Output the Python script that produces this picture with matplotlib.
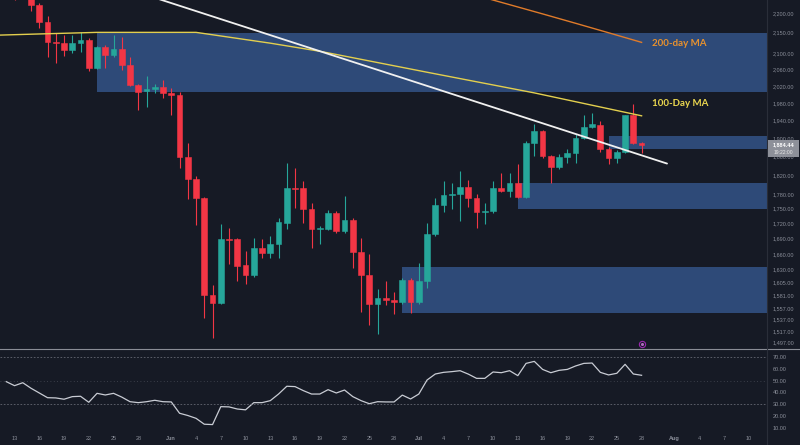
import numpy as np
import pandas as pd
import matplotlib
matplotlib.use('Agg')
import matplotlib.pyplot as plt
import matplotlib.dates as mdates
from matplotlib.lines import Line2D
from matplotlib.patches import Rectangle

# Daily candles, 12 May - 28 Jul
dates = pd.date_range('2023-05-12', '2023-07-28', freq='D')

opens = [2330, 2290, 2250, 2245, 2221, 2177, 2127, 2124, 2107, 2125, 2132, 2063, 2114, 2095, 2109, 2070, 2022, 2008, 2013, 2018,
         2003, 2000, 1859, 1812, 1772, 1583, 1567, 1690, 1690, 1639, 1619, 1672, 1662, 1680, 1722, 1794, 1792, 1749, 1710, 1710,
         1741, 1706, 1728, 1664, 1619, 1565, 1577, 1573, 1569, 1611,
         1569, 1609, 1700, 1757, 1779, 1781, 1796, 1772, 1743, 1745, 1794, 1786, 1803, 1775, 1890, 1916, 1862, 1838, 1860, 1868,
         1902, 1926, 1930, 1877, 1858, 1870, 1953, 1890]
highs = [2345, 2300, 2262, 2260, 2226, 2192, 2149, 2144, 2144, 2152, 2137, 2118, 2120, 2144, 2139, 2090, 2024, 2044, 2025, 2035,
         2015, 2005, 1890, 1819, 1775, 1600, 1720, 1712, 1692, 1666, 1692, 1690, 1696, 1732, 1846, 1836, 1808, 1761, 1716, 1747,
         1745, 1777, 1732, 1692, 1660, 1594, 1609, 1587, 1613, 1613,
         1643, 1722, 1773, 1808, 1804, 1830, 1810, 1781, 1761, 1808, 1825, 1825, 1844, 1894, 1933, 1918, 1864, 1866, 1877, 1911,
         1953, 1957, 1940, 1881, 1875, 1953, 1978, 1892]
lows = [2280, 2233, 2236, 2205, 2162, 2090, 2075, 2092, 2099, 2101, 2056, 2061, 2063, 2090, 2058, 2020, 1964, 1971, 2003, 1993,
        1953, 1835, 1770, 1718, 1541, 1505, 1565, 1641, 1609, 1603, 1615, 1652, 1652, 1652, 1710, 1752, 1722, 1672, 1680, 1708,
        1702, 1702, 1633, 1551, 1527, 1512, 1563, 1547, 1565, 1549,
        1565, 1596, 1696, 1743, 1750, 1726, 1754, 1712, 1720, 1741, 1784, 1775, 1772, 1772, 1862, 1856, 1803, 1834, 1846, 1846,
        1898, 1924, 1870, 1844, 1846, 1868, 1888, 1868]
closes = [2290, 2250, 2245, 2222, 2177, 2127, 2124, 2107, 2125, 2132, 2063, 2114, 2095, 2109, 2070, 2022, 2005, 2013, 2018, 2003,
          2000, 1859, 1812, 1772, 1583, 1567, 1690, 1688, 1637, 1619, 1672, 1662, 1680, 1724, 1794, 1790, 1749, 1710, 1712, 1741,
          1706, 1728, 1664, 1619, 1565, 1577, 1573, 1569, 1611, 1569,
          1609, 1700, 1757, 1779, 1781, 1796, 1772, 1743, 1745, 1794, 1786, 1803, 1775, 1890, 1916, 1862, 1838, 1860, 1868, 1902,
          1926, 1933, 1877, 1858, 1870, 1953, 1890, 1884.44]

rsi = [49.1, 45.7, 48.2, 43.5, 39.5, 35.5, 35.3, 34.2, 36.4, 36.7, 31.6, 39.2, 37.8, 39.2, 36.0, 32.1, 31.3, 32.1, 33.3, 32.1,
       31.9, 22.3, 20.4, 18.0, 13.0, 12.7, 27.9, 27.7, 25.9, 25.2, 31.3, 31.3, 33.0, 38.6, 45.2, 44.9, 41.5, 38.6, 38.6, 42.3,
       39.5, 42.0, 36.4, 33.0, 30.4, 32.1, 31.9, 31.9, 37.7, 34.4,
       38.6, 50.5, 55.6, 57.0, 57.6, 58.4, 55.5, 51.9, 51.9, 57.3, 56.7, 58.4, 54.2, 64.6, 66.3, 59.5, 56.7, 58.7, 59.5, 62.4,
       64.6, 64.9, 57.0, 54.8, 56.2, 63.8, 55.6, 54.5]

# Moving averages (read at a few dates)
ma100_dates = ['2023-05-11', '2023-05-16', '2023-05-23', '2023-06-04', '2023-06-13', '2023-06-19', '2023-07-02', '2023-07-15', '2023-07-28']
ma100_vals = [2144, 2147, 2151, 2151, 2124, 2104, 2053, 2004, 1951]
ma200_dates = ['2023-07-07', '2023-07-16', '2023-07-20', '2023-07-24', '2023-07-28']
ma200_vals = [2252, 2198, 2174, 2150, 2126]

# Descending trendline
trend_dates = ['2023-05-29 10:00', '2023-07-31 02:00']
trend_vals = [2244, 1845]

# Supply / demand zones
zone_start = ['2023-05-23', '2023-07-24', '2023-07-13', '2023-06-29']
zone_top = [2149, 1905, 1803, 1635]
zone_bottom = [2005, 1876, 1749, 1549]

price_ticks = [2200, 2150, 2100, 2060, 2020, 1980, 1940, 1900, 1860, 1820, 1780, 1750, 1720, 1690, 1660,
               1630, 1605, 1581, 1557, 1537, 1517, 1497]
rsi_ticks = [70, 60, 50, 40, 30, 20, 10]

x_tick_dates = ['2023-05-13', '2023-05-16', '2023-05-19', '2023-05-22', '2023-05-25', '2023-05-28', '2023-06-01',
                '2023-06-04', '2023-06-07', '2023-06-10', '2023-06-13', '2023-06-16', '2023-06-19', '2023-06-22',
                '2023-06-25', '2023-06-28', '2023-07-01', '2023-07-04', '2023-07-07', '2023-07-10', '2023-07-13',
                '2023-07-16', '2023-07-19', '2023-07-22', '2023-07-25', '2023-07-28', '2023-08-01', '2023-08-04',
                '2023-08-07', '2023-08-10']
x_tick_labels = ['13', '16', '19', '22', '25', '28', 'Jun', '4', '7', '10', '13', '16', '19', '22', '25', '28',
                 'Jul', '4', '7', '10', '13', '16', '19', '22', '25', '28', 'Aug', '4', '7', '10']

last_price = '1,884.44'
countdown = '19:22:00'

# colours
bg = '#161a25'
up_col = '#26a69a'
down_col = '#f23645'
zone_col = '#2e4a78'
axis_txt = '#8a8e99'

W, H = 800, 445
fig = plt.figure(figsize=(8, 4.45), dpi=100, facecolor=bg)
ax = fig.add_axes([0, 97 / H, 767 / W, 348 / H], facecolor=bg)
ax_rsi = fig.add_axes([0, 13 / H, 767 / W, 83 / H], facecolor=bg)

x = mdates.date2num(dates)
o = np.array(opens)
c = np.array(closes)
hi = np.array(highs)
lo = np.array(lows)
cols = np.where(c >= o, up_col, down_col)

x0 = mdates.date2num(pd.Timestamp('2023-05-13')) - 1.76
x1 = mdates.date2num(pd.Timestamp('2023-05-13')) + 91.2

# zones
for s, t, b in zip(zone_start, zone_top, zone_bottom):
    xs = mdates.date2num(pd.Timestamp(s))
    ax.fill_between([xs, x1 + 5], b, t, color=zone_col, lw=0, zorder=1)

# candles
ax.vlines(x, lo, hi, color=cols, lw=0.8, zorder=3)
ax.bar(x, np.abs(c - o), bottom=np.minimum(o, c), width=0.7, color=cols, edgecolor=cols, lw=0.4, zorder=4)

# moving averages and trendline
ax.plot(mdates.date2num(pd.to_datetime(ma100_dates)), ma100_vals, color='#e3cf4e', lw=1.0, zorder=5)
ax.plot(mdates.date2num(pd.to_datetime(ma200_dates)), ma200_vals, color='#e07b2a', lw=1.0, zorder=5)
ax.plot(mdates.date2num(pd.to_datetime(trend_dates)), trend_vals, color='#f0f0f0', lw=1.3, zorder=6, solid_capstyle='round')

ax.text(mdates.date2num(pd.Timestamp('2023-07-29 07:00')), 2124, '200-day MA', color='#e8922e',
        fontsize=7, fontweight='bold', family='Lato', va='center', ha='left', zorder=7)
ax.text(mdates.date2num(pd.Timestamp('2023-07-29 07:00')), 1980, '100-Day MA', color='#ecd84f',
        fontsize=7, fontweight='bold', family='Lato', va='center', ha='left', zorder=7)

# event marker
ax.plot(mdates.date2num(pd.Timestamp('2023-07-28')), 0.012, 'o', ms=4.5, mfc=bg, mec='#9c27b0', mew=0.8,
        transform=ax.get_xaxis_transform(), zorder=8, clip_on=False)
ax.plot(mdates.date2num(pd.Timestamp('2023-07-28')), 0.012, 'o', ms=1.2, color='#b06cc0',
        transform=ax.get_xaxis_transform(), zorder=9, clip_on=False)

ax.set_yscale('log')
ax.set_ylim(1487, 2234)
ax.set_xlim(x0, x1)
ax.set_yticks(price_ticks)
ax.set_yticks([], minor=True)
ax.set_yticklabels([f'{v:,.2f}' for v in price_ticks], family='Liberation Sans', fontsize=4, color=axis_txt)
ax.yaxis.tick_right()
ax.tick_params(axis='y', length=0, pad=4)
ax.set_xticks([])
for sp in ax.spines.values():
    sp.set_visible(False)

# RSI pane
ax_rsi.plot(x, rsi, color='#c9ccd4', lw=0.9)
for lvl, ls, a in [(70, (0, (2, 2)), 0.8), (30, (0, (2, 2)), 0.8), (50, (0, (1, 3)), 0.5)]:
    ax_rsi.axhline(lvl, color='#787b86', lw=0.6, ls=ls, alpha=a)
ax_rsi.set_xlim(x0, x1)
ax_rsi.set_ylim(6.4, 76.8)
ax_rsi.set_yticks(rsi_ticks)
ax_rsi.set_yticklabels([f'{v:.2f}' for v in rsi_ticks], family='Liberation Sans', fontsize=4, color=axis_txt)
for lab in ax_rsi.get_yticklabels():
    if lab.get_text() == '50.00':
        lab.set_color('#e0e3eb')
        lab.set_fontweight('bold')
ax_rsi.yaxis.tick_right()
ax_rsi.tick_params(axis='y', length=0, pad=4)
ax_rsi.set_xticks(mdates.date2num(pd.to_datetime(x_tick_dates)))
ax_rsi.set_xticklabels(x_tick_labels, family='Liberation Sans', fontsize=4, color=axis_txt)
for lab in ax_rsi.get_xticklabels():
    if lab.get_text() in ('Jun', 'Jul', 'Aug'):
        lab.set_fontweight('bold')
ax_rsi.tick_params(axis='x', length=0, pad=3)
for sp in ax_rsi.spines.values():
    sp.set_visible(False)

# pane separators
fig.add_artist(Line2D([0, 1], [1 - 348.5 / H, 1 - 348.5 / H], color='#8a8d96', lw=0.8))
fig.add_artist(Line2D([767 / W, 767 / W], [0, 1], color='#2a2e39', lw=0.8))

# last price tag
fig.add_artist(Rectangle((768 / W, 1 - 157 / H), 31 / W, 17 / H, transform=fig.transFigure,
                         facecolor='#8d9099', edgecolor='none', zorder=10))
fig.text(783.5 / W, 1 - 144.5 / H, last_price, ha='center', va='center', fontsize=4, color='white',
         family='Liberation Sans', fontweight='bold', zorder=11)
fig.text(783.5 / W, 1 - 152 / H, countdown, ha='center', va='center', fontsize=3.6, color='#e8e8e8',
         family='Liberation Sans', zorder=11)

fig.savefig('out.png', dpi=100, facecolor=bg)
